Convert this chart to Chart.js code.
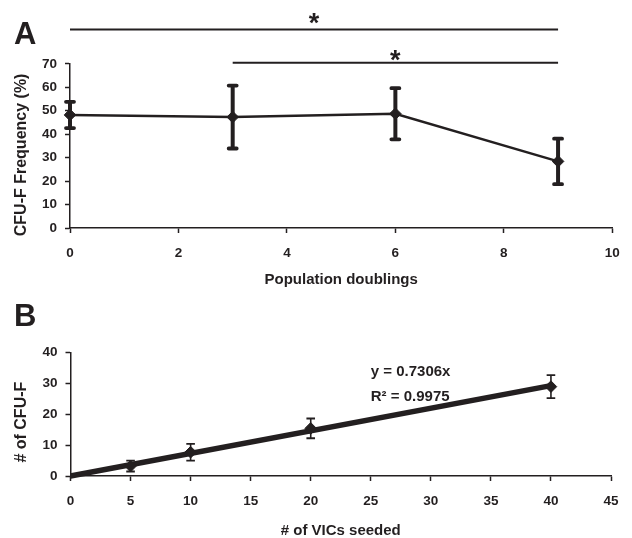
<!DOCTYPE html>
<html>
<head>
<meta charset="utf-8">
<script src="https://cdn.jsdelivr.net/npm/chart.js@4.4.1/dist/chart.umd.min.js"></script>
<style>
  html, body { margin: 0; padding: 0; background: #ffffff; }
  #page { position: relative; width: 632px; height: 538px; overflow: hidden; background: #fff; }
  #boxA { position: absolute; left: 0; top: 0; width: 632px; height: 300px; }
  #boxB { position: absolute; left: 0; top: 290px; width: 632px; height: 248px; }
  canvas { display: block; }
</style>
</head>
<body>
<div id="page">
  <div id="boxA"><canvas id="chartA" width="632" height="300"></canvas></div>
  <div id="boxB"><canvas id="chartB" width="632" height="248"></canvas></div>
</div>
<script>
// ---------- Panel A data ----------
const doublings = [0, 3, 6, 9];
const cfuFrequency = [48.2, 47.3, 48.7, 28.4];
const cfuFrequencyErr = [5.6, 13.4, 10.9, 9.7];
const doublingTicks = [0, 2, 4, 6, 8, 10];
const frequencyTicks = [0, 10, 20, 30, 40, 50, 60, 70];
const sigBrackets = [[0, 9], [3, 9]];
const sigMark = '*';
const titleXA = 'Population doublings';
const titleYA = 'CFU-F Frequency (%)';

// ---------- Panel B data ----------
const vicsSeeded = [5, 10, 20, 40];
const cfuCount = [3.2, 7.7, 15.4, 28.9];
const cfuCountErr = [1.75, 2.7, 3.2, 3.7];
const vicsTicks = [0, 5, 10, 15, 20, 25, 30, 35, 40, 45];
const countTicks = [0, 10, 20, 30, 40];
const trendSlope = 0.7306;
const trendR2 = 0.9975;
const trendRange = [0, 40];
const titleXB = '# of VICs seeded';
const titleYB = '# of CFU-F';

// ---------- styling ----------
const INK = '#231f20';
const FONT = "'Liberation Sans', Arial, Helvetica, sans-serif";
Chart.defaults.color = INK;
Chart.defaults.font.family = FONT;

const errorBars = {
  id: 'errorBars',
  beforeDatasetsDraw(chart, args, o) {
    const ctx = chart.ctx;
    const ys = chart.scales.y;
    const meta = chart.getDatasetMeta(o.dataset);
    const ds = chart.data.datasets[o.dataset];
    ctx.save();
    ctx.strokeStyle = INK;
    meta.data.forEach((pt, j) => {
      const v = ds.data[j].y, e = o.errors[j];
      const yT = ys.getPixelForValue(v + e), yB = ys.getPixelForValue(v - e);
      ctx.lineCap = 'butt';
      ctx.lineWidth = o.barWidth;
      ctx.beginPath(); ctx.moveTo(pt.x, yT); ctx.lineTo(pt.x, yB); ctx.stroke();
      ctx.lineCap = o.capStyle;
      ctx.lineWidth = o.capWidth;
      ctx.beginPath();
      ctx.moveTo(pt.x - o.capHalf, yT); ctx.lineTo(pt.x + o.capHalf, yT);
      ctx.moveTo(pt.x - o.capHalf, yB); ctx.lineTo(pt.x + o.capHalf, yB);
      ctx.stroke();
    });
    ctx.restore();
  }
};

const decor = {
  id: 'decor',
  afterDraw(chart, args, o) {
    const ctx = chart.ctx, area = chart.chartArea, xs = chart.scales.x;
    ctx.save();
    ctx.fillStyle = INK; ctx.strokeStyle = INK;
    // panel letter
    ctx.font = 'bold 31px ' + FONT;
    ctx.textAlign = 'left'; ctx.textBaseline = 'alphabetic';
    ctx.fillText(o.letter, o.letterX, o.letterY);
    // y-axis title
    ctx.save();
    ctx.translate(o.yTitleX, (area.top + area.bottom) / 2 + o.yTitleShift);
    ctx.rotate(-Math.PI / 2);
    ctx.font = 'bold 16px ' + FONT;
    ctx.textAlign = 'center'; ctx.textBaseline = 'middle';
    ctx.fillText(o.yTitle, 0, 0);
    ctx.restore();
    // significance brackets
    (o.brackets || []).forEach((b, i) => {
      const x1 = xs.getPixelForValue(b[0]), x2 = xs.getPixelForValue(b[1]);
      const y = o.bracketY[i];
      ctx.lineWidth = 2;
      ctx.beginPath(); ctx.moveTo(x1, y); ctx.lineTo(x2, y); ctx.stroke();
      ctx.font = 'bold 27px ' + FONT;
      ctx.textAlign = 'center'; ctx.textBaseline = 'alphabetic';
      ctx.fillText(o.mark, (x1 + x2) / 2, y + o.markDy[i]);
    });
    // notes (equation)
    (o.notes || []).forEach(n => {
      ctx.font = 'bold 15px ' + FONT;
      ctx.textAlign = 'left'; ctx.textBaseline = 'middle';
      ctx.fillText(n.text, xs.getPixelForValue(n.x), n.y);
    });
    ctx.restore();
  }
};

function axisCommon(tickLen) {
  return {
    type: 'linear',
    grid: { display: true, drawOnChartArea: false, drawTicks: true, tickLength: tickLen,
            tickColor: INK, tickWidth: 1.5, color: INK },
    border: { display: true, color: INK, width: 1.5 },
  };
}

// ---------- Chart A ----------
const ptsA = doublings.map((x, i) => ({ x: x, y: cfuFrequency[i] }));
new Chart(document.getElementById('chartA'), {
  type: 'scatter',
  data: {
    datasets: [{
      data: ptsA, showLine: true, borderColor: INK, borderWidth: 2.5,
      pointStyle: 'rectRot', pointRadius: 5.8, pointBackgroundColor: INK,
      pointBorderColor: INK, pointBorderWidth: 1, clip: false
    }]
  },
  options: {
    responsive: false, animation: false, devicePixelRatio: 1,
    layout: { padding: { top: 63.8, right: 18.5, bottom: 0, left: 0 } },
    plugins: {
      legend: { display: false }, tooltip: { enabled: false },
      errorBars: { dataset: 0, errors: cfuFrequencyErr, barWidth: 4, capWidth: 3.8, capHalf: 4, capStyle: 'round' },
      decor: { letter: 'A', letterX: 14, letterY: 44.3, yTitle: titleYA, yTitleX: 22, yTitleShift: 9,
               brackets: sigBrackets, bracketY: [29.5, 62.7], mark: sigMark, markDy: [2.7, 6.2] }
    },
    scales: {
      x: Object.assign(axisCommon(5), {
        min: doublingTicks[0], max: doublingTicks[doublingTicks.length - 1],
        afterBuildTicks: s => { s.ticks = doublingTicks.map(v => ({ value: v })); },
        afterFit: s => { s.height = 72; },
        ticks: { font: { size: 13.5, weight: 'bold' }, padding: 12.2, maxRotation: 0, autoSkip: false },
        title: { display: true, text: titleXA, font: { size: 15, weight: 'bold' }, padding: { top: 0, bottom: 11.3 } }
      }),
      y: Object.assign(axisCommon(5), {
        min: frequencyTicks[0], max: frequencyTicks[frequencyTicks.length - 1],
        afterBuildTicks: s => { s.ticks = frequencyTicks.map(v => ({ value: v })); },
        afterFit: s => { s.width = 70; },
        ticks: { font: { size: 13.5, weight: 'bold' }, padding: 8, autoSkip: false }
      })
    }
  },
  plugins: [errorBars, decor]
});

// ---------- Chart B ----------
const ptsB = vicsSeeded.map((x, i) => ({ x: x, y: cfuCount[i] }));
const trendPts = trendRange.map(x => ({ x: x, y: trendSlope * x }));
new Chart(document.getElementById('chartB'), {
  type: 'scatter',
  data: {
    datasets: [
      { data: ptsB, showLine: false, pointStyle: 'rectRot', pointRadius: 5.8,
        pointBackgroundColor: INK, pointBorderColor: INK, pointBorderWidth: 1, clip: false },
      { data: trendPts, showLine: true, borderColor: INK, borderWidth: 5.5, pointRadius: 0, clip: false }
    ]
  },
  options: {
    responsive: false, animation: false, devicePixelRatio: 1,
    layout: { padding: { top: 62.3, right: 21, bottom: 0, left: 0 } },
    plugins: {
      legend: { display: false }, tooltip: { enabled: false },
      errorBars: { dataset: 0, errors: cfuCountErr, barWidth: 1.6, capWidth: 1.8, capHalf: 4.3, capStyle: 'butt' },
      decor: { letter: 'B', letterX: 14, letterY: 35.5, yTitle: titleYB, yTitleX: 22, yTitleShift: 8,
               notes: [ { text: 'y = ' + trendSlope + 'x', x: 25, y: 81.7 },
                        { text: 'R\u00B2 = ' + trendR2, x: 25, y: 106.7 } ] }
    },
    scales: {
      x: Object.assign(axisCommon(5), {
        min: vicsTicks[0], max: vicsTicks[vicsTicks.length - 1],
        afterBuildTicks: s => { s.ticks = vicsTicks.map(v => ({ value: v })); },
        afterFit: s => { s.height = 62; },
        ticks: { font: { size: 13.5, weight: 'bold' }, padding: 12.6, maxRotation: 0, autoSkip: false },
        title: { display: true, text: titleXB, font: { size: 15, weight: 'bold', lineHeight: 1 }, padding: { top: 0, bottom: 0 } }
      }),
      y: Object.assign(axisCommon(5), {
        min: countTicks[0], max: countTicks[countTicks.length - 1],
        afterBuildTicks: s => { s.ticks = countTicks.map(v => ({ value: v })); },
        afterFit: s => { s.width = 70.5; },
        ticks: { font: { size: 13.5, weight: 'bold' }, padding: 8, autoSkip: false }
      })
    }
  },
  plugins: [errorBars, decor]
});
</script>
</body>
</html>
